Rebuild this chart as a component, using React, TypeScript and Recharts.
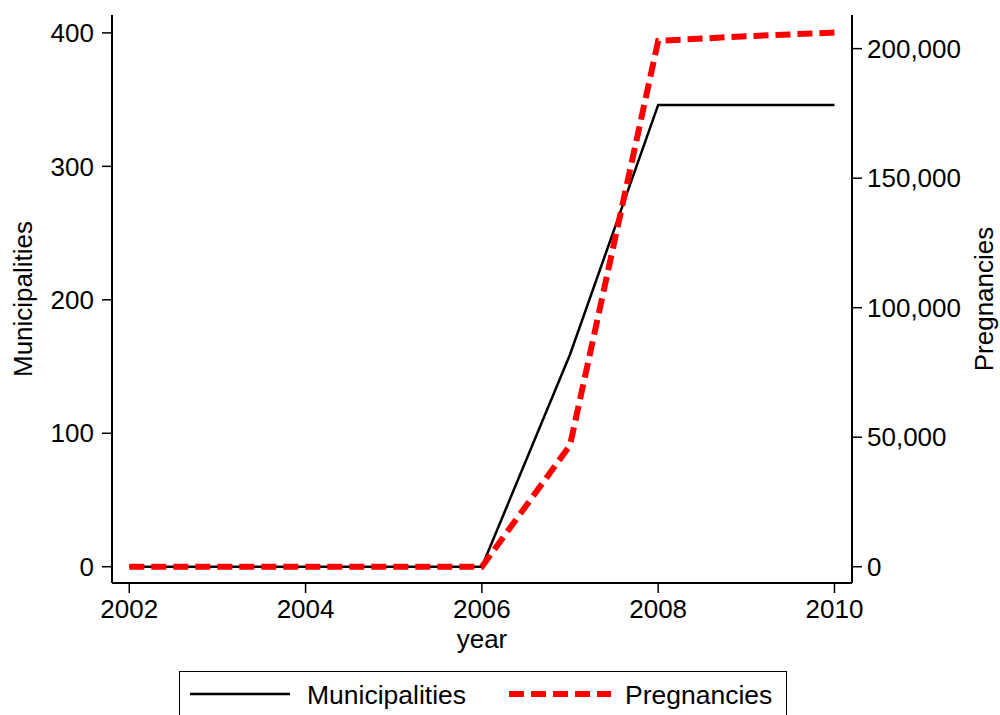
import { LineChart, Line, XAxis, YAxis } from "recharts";

// values
const years = [2002, 2003, 2004, 2005, 2006, 2007, 2008, 2009, 2010];
const municipalities = [0, 0, 0, 0, 0, 159, 346, 346, 346];
const pregnancies = [0, 0, 0, 0, 0, 46900, 203000, 204800, 206200];

const yearTicks = [2002, 2004, 2006, 2008, 2010];
const municipalityTicks = [0, 100, 200, 300, 400];
const pregnancyTicks = [0, 50000, 100000, 150000, 200000];

const seriesNames = ["Municipalities", "Pregnancies"];

const data = years.map((year, i) => ({
  year,
  municipalities: municipalities[i],
  pregnancies: pregnancies[i],
}));

const FONT = "'Liberation Sans', Arial, Helvetica, sans-serif";
const tickStyle = { fill: "#000", fontSize: 26, fontFamily: FONT };
const titleStyle = { fill: "#000", fontSize: 26, fontFamily: FONT };

const fmtThousands = (v: number) => v.toLocaleString("en-US");

export default function App() {
  return (
    <div
      style={{
        position: "fixed",
        left: 0,
        top: 0,
        width: 1000,
        height: 715,
        background: "#fff",
        overflow: "hidden",
        fontFamily: FONT,
      }}
    >
      <LineChart
        width={1000}
        height={715}
        data={data}
        margin={{ top: 15, right: 0, bottom: 57, left: 0 }}
      >
        {/* top edge of the plot box */}
        <XAxis
          xAxisId="top"
          orientation="top"
          dataKey="year"
          type="number"
          domain={[2001.804, 2010.199]}
          allowDataOverflow
          height={0}
          tick={false}
          tickLine={false}
          axisLine={{ stroke: "#000", strokeWidth: 2 }}
        />
        <XAxis
          dataKey="year"
          type="number"
          domain={[2001.804, 2010.199]}
          allowDataOverflow
          ticks={yearTicks}
          height={75}
          tickSize={10}
          tickMargin={7}
          tick={tickStyle}
          tickLine={{ stroke: "#000", strokeWidth: 1.5 }}
          axisLine={{ stroke: "#000", strokeWidth: 2 }}
          label={{
            content: (p: any) => {
              const vb = p.viewBox;
              return (
                <text
                  x={vb.x + vb.width / 2}
                  y={vb.y + 65}
                  textAnchor="middle"
                  style={titleStyle}
                >
                  year
                </text>
              );
            },
          }}
        />
        <YAxis
          yAxisId="left"
          orientation="left"
          type="number"
          domain={[-12.2, 413.4]}
          allowDataOverflow
          ticks={municipalityTicks}
          width={112}
          tickSize={10}
          tickMargin={8}
          tick={tickStyle}
          tickLine={{ stroke: "#000", strokeWidth: 1.5 }}
          axisLine={{ stroke: "#000", strokeWidth: 2 }}
          label={{
            content: (p: any) => {
              const vb = p.viewBox;
              const x = vb.x + 32;
              const y = vb.y + vb.height / 2;
              return (
                <text
                  x={x}
                  y={y}
                  textAnchor="middle"
                  transform={`rotate(-90, ${x}, ${y})`}
                  style={titleStyle}
                >
                  Municipalities
                </text>
              );
            },
          }}
        />
        <YAxis
          yAxisId="right"
          orientation="right"
          type="number"
          domain={[-6281, 212987]}
          allowDataOverflow
          ticks={pregnancyTicks}
          width={148}
          tickSize={10}
          tickMargin={5}
          tick={tickStyle}
          tickFormatter={fmtThousands}
          tickLine={{ stroke: "#000", strokeWidth: 1.5 }}
          axisLine={{ stroke: "#000", strokeWidth: 2 }}
          label={{
            content: (p: any) => {
              const vb = p.viewBox;
              const x = vb.x + 141;
              const y = vb.y + vb.height / 2;
              return (
                <text
                  x={x}
                  y={y}
                  textAnchor="middle"
                  transform={`rotate(-90, ${x}, ${y})`}
                  style={titleStyle}
                >
                  Pregnancies
                </text>
              );
            },
          }}
        />
        <Line
          yAxisId="left"
          type="linear"
          dataKey="municipalities"
          name={seriesNames[0]}
          stroke="#000"
          strokeWidth={2.5}
          dot={false}
          isAnimationActive={false}
        />
        <Line
          yAxisId="right"
          type="linear"
          dataKey="pregnancies"
          name={seriesNames[1]}
          stroke="#ff0000"
          strokeWidth={6}
          strokeDasharray="15 7"
          dot={false}
          isAnimationActive={false}
        />
      </LineChart>

      {/* legend box */}
      <div
        style={{
          position: "absolute",
          left: 179,
          top: 671,
          width: 608,
          height: 60,
          border: "1.5px solid #000",
          boxSizing: "border-box",
        }}
      >
        <svg width={608} height={60} style={{ display: "block" }}>
          <line x1={10} x2={110} y1={22} y2={22} stroke="#000" strokeWidth={2.5} />
          <text x={127} y={32} style={{ ...titleStyle, fontSize: 26.5 }}>
            {seriesNames[0]}
          </text>
          <line
            x1={329}
            x2={431}
            y1={22}
            y2={22}
            stroke="#ff0000"
            strokeWidth={6}
            strokeDasharray="15 7"
          />
          <text x={445} y={32} style={{ ...titleStyle, fontSize: 26.5 }}>
            {seriesNames[1]}
          </text>
        </svg>
      </div>
    </div>
  );
}
